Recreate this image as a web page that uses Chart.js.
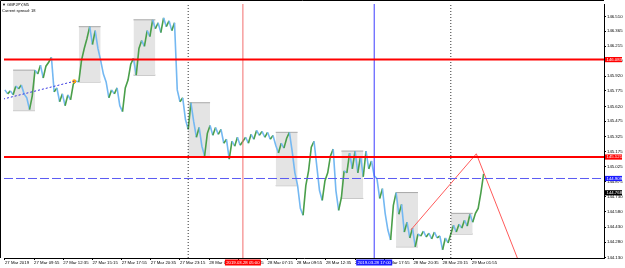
<!DOCTYPE html>
<html><head><meta charset="utf-8">
<script src="https://cdn.jsdelivr.net/npm/chart.js@4/dist/chart.umd.min.js"></script>
<style>html,body{margin:0;padding:0;background:#fff;overflow:hidden}</style>
</head><body>
<canvas id="c" width="625" height="268"></canvas>
<script>
// ---- data (M5 bar index from 27 Mar 2019 07:15) ----
const titleLines = ['\u25BC GBPJPY,M5', 'Current spread: 18'];
const xTickBars = [0,32,64,96,128,160,192,224,256,288,320,352,384,416,448,480,512];
const xTickLabels = ['27 Mar 2019','27 Mar 09:55','27 Mar 12:35','27 Mar 15:15','27 Mar 17:55','27 Mar 20:35','27 Mar 23:15',
  '28 Mar 01:55','28 Mar 04:35','28 Mar 07:15','28 Mar 09:55','28 Mar 12:35','28 Mar 15:15','28 Mar 17:55','28 Mar 20:35','28 Mar 23:15','29 Mar 01:55'];
const yTickValues = [146.510,146.365,146.215,146.070,145.920,145.775,145.620,145.475,145.325,145.175,145.025,144.875,144.730,144.580,144.430,144.280,144.130];
const yRange = [144.124, 146.632];
const xRange = [-1, 657];
const priceStepBars = 3;
const priceValues = [
145.784,145.745,145.774,145.735,145.823,145.794,145.833,145.745,145.706,145.589,
145.725,145.979,145.940,146.028,145.901,146.018,146.057,146.106,145.764,145.803,
145.667,145.745,145.628,145.735,145.686,145.842,145.872,145.862,146.076,146.193,
146.291,146.408,146.232,146.369,146.193,146.076,145.940,145.862,145.706,145.784,
145.745,145.803,145.628,145.569,145.803,145.881,146.037,146.096,145.930,146.193,
146.271,146.213,146.369,146.310,146.476,146.388,146.447,146.349,146.496,146.408,
146.466,146.369,146.447,145.784,145.667,145.706,145.491,145.394,145.657,145.472,
145.316,145.413,145.228,145.131,145.355,145.433,145.335,145.413,145.345,145.394,
145.257,145.296,145.101,145.277,145.228,145.316,145.238,145.277,145.316,145.257,
145.345,145.296,145.384,145.335,145.374,145.316,145.365,145.296,145.335,145.238,
145.160,145.257,145.209,145.306,145.365,145.180,144.965,144.838,144.614,144.546,
144.838,144.985,145.219,145.277,145.033,144.790,144.692,144.887,144.965,145.131,
145.199,144.790,144.595,144.721,144.985,144.965,145.160,145.004,145.180,144.965,
145.131,144.926,145.180,145.004,145.082,144.936,144.907,144.712,144.809,144.565,
144.400,144.302,144.643,144.770,144.556,144.653,144.380,144.478,144.322,144.419,
144.234,144.361,144.341,144.390,144.331,144.370,144.312,144.380,144.322,144.341,
144.205,144.322,144.273,144.361,144.448,144.380,144.458,144.419,144.497,144.439,
144.556,144.478,144.565,144.614,144.770,144.955];
const boxStartBars = [9,81,141,201,297,369,429,489];
const boxEndBars   = [33,105,165,225,321,393,453,513];
const boxHighs = [145.979,146.408,146.476,145.657,145.365,145.180,144.770,144.565];
const boxLows  = [145.579,145.862,145.930,145.131,144.838,144.712,144.234,144.361];
const redLevels = [146.083, 145.121];
const blueDashedLevel = 144.909;
const bidLevel = 144.768;
const separatorBars = [201, 489];
const redTimeBar = 261, redTimeLabel = '2019.03.28 05:00';
const blueTimeBar = 405, blueTimeLabel = '2019.03.28 17:00';
const trendBars = [-2, 76], trendPrices = [145.693, 145.869];
const zigzagBars = [445, 517, 566], zigzagPrices = [144.399, 145.153, 144.032];

// ---- styles ----
const UP = '#4a9f4a', DOWN = '#74b8f2';
const FONT = '"Liberation Sans","DejaVu Sans",sans-serif';

const datasets = [];
// objects on top
redLevels.forEach(v => datasets.push({data:[{x:xRange[0],y:v},{x:xRange[1],y:v}], borderColor:'#ff0000', borderWidth:2, order:0}));
datasets.push({data:[{x:xRange[0],y:blueDashedLevel},{x:xRange[1],y:blueDashedLevel}], borderColor:'#5b5bf2', borderWidth:1, borderDash:[9,3], order:0});
datasets.push({data:[{x:redTimeBar,y:yRange[0]},{x:redTimeBar,y:yRange[1]}], borderColor:'#f26d6d', borderWidth:1, order:1});
datasets.push({data:[{x:blueTimeBar,y:yRange[0]},{x:blueTimeBar,y:yRange[1]}], borderColor:'#3c3cff', borderWidth:1, order:1});
separatorBars.forEach(b => datasets.push({data:[{x:b,y:yRange[0]},{x:b,y:yRange[1]}], borderColor:'#333', borderWidth:1, borderDash:[1,2], order:1}));
datasets.push({data:trendBars.map((b,i)=>({x:b,y:trendPrices[i]})), borderColor:'#3434e0', borderWidth:1, borderDash:[2,2], order:0});
datasets.push({data:[{x:trendBars[1],y:trendPrices[1]}], showLine:false, pointRadius:2, pointBackgroundColor:'#ffa20a', pointBorderWidth:0, order:0});
datasets.push({data:zigzagBars.map((b,i)=>({x:b,y:zigzagPrices[i]})), borderColor:'#ff5a5a', borderWidth:1, order:0});
// price
datasets.push({data:priceValues.map((p,i)=>({x:i*priceStepBars,y:p})), borderWidth:1.6, borderColor:DOWN,
  segment:{borderColor: c => c.p1.parsed.y >= c.p0.parsed.y ? UP : DOWN}, order:5});
// session boxes
boxStartBars.forEach((s,i) => {
  datasets.push({data:[{x:s,y:boxHighs[i]},{x:boxEndBars[i],y:boxHighs[i]}], borderColor:'#a8a8a8', borderWidth:1,
    backgroundColor:'#e4e4e4', fill:{value:boxLows[i]}, order:10});
  datasets.push({data:[{x:s,y:boxLows[i]},{x:boxEndBars[i],y:boxLows[i]}], borderColor:'#a8a8a8', borderWidth:1, order:10});
});
datasets.forEach(d => { if (d.pointRadius === undefined) d.pointRadius = 0; d.fill = d.fill || false; d.tension = 0; });

const overlay = {
  id:'overlay',
  afterDraw(chart){
    const ctx = chart.ctx, a = chart.chartArea, xs = chart.scales.x, ys = chart.scales.y;
    ctx.save();
    ctx.strokeStyle = '#000'; ctx.lineWidth = 1;
    ctx.beginPath(); ctx.moveTo(0.5, a.bottom); ctx.lineTo(0.5, 0.5); ctx.lineTo(a.right, 0.5); ctx.stroke();
    ctx.fillStyle = '#000'; ctx.textBaseline = 'middle'; ctx.textAlign = 'left';
    ctx.font = '4px ' + FONT;
    ctx.fillText(titleLines[0], 2, 5);
    ctx.fillText(titleLines[1], 2, 11);
    // right-axis price tags
    const tags = [[redLevels[0],'#ff0000'],[redLevels[1],'#ff0000'],[blueDashedLevel,'#1c1cff'],[bidLevel,'#000000']];
    ctx.font = '4.3px ' + FONT;
    tags.forEach(([v,col]) => {
      const y = ys.getPixelForValue(v);
      ctx.fillStyle = col; ctx.fillRect(a.right + 1, y - 2.6, 17, 5.2);
      ctx.fillStyle = '#fff'; ctx.fillText(v.toFixed(3), a.right + 2.5, y + 0.2);
    });
    // bottom time tags
    [[redTimeBar, redTimeLabel, '#ff0000'], [blueTimeBar, blueTimeLabel, '#1c1cff']].forEach(([b, t, col]) => {
      const x = xs.getPixelForValue(b);
      ctx.fillStyle = col; ctx.fillRect(x - 18, a.bottom + 1.5, 36, 6);
      ctx.fillStyle = '#fff'; ctx.textAlign = 'center'; ctx.fillText(t, x, a.bottom + 4.6);
    });
    ctx.restore();
  }
};

new Chart(document.getElementById('c'), {
  type:'line',
  data:{datasets},
  options:{
    responsive:false, devicePixelRatio:1, animation:false,
    layout:{padding:{left:1, top:1, right:0, bottom:0}},
    plugins:{legend:{display:false}, tooltip:{enabled:false}},
    scales:{
      x:{type:'linear', min:xRange[0], max:xRange[1], bounds:'data',
        afterBuildTicks: s => { s.ticks = xTickBars.map(v => ({value:v})); },
        afterFit: s => { s.height = 10; s.paddingLeft = 0; s.paddingRight = 0; },
        ticks:{autoSkip:false, maxRotation:0, minRotation:0, align:'start', padding:0.5, color:'#000',
          font:{family:FONT, size:4.3}, callback:(v,i) => xTickLabels[i]},
        grid:{drawOnChartArea:false, drawTicks:true, tickLength:2, color:'#000'},
        border:{display:true, color:'#000'}
      },
      y:{type:'linear', position:'right', min:yRange[0], max:yRange[1], bounds:'data',
        afterBuildTicks: s => { s.ticks = yTickValues.map(v => ({value:v})); },
        afterFit: s => { s.width = 21; s.paddingTop = 0; s.paddingBottom = 0; },
        ticks:{autoSkip:false, padding:1, color:'#000', font:{family:FONT, size:4.3},
          callback:(v,i) => yTickValues[i].toFixed(3)},
        grid:{drawOnChartArea:false, drawTicks:true, tickLength:2, color:'#000'},
        border:{display:true, color:'#000'}
      }
    }
  },
  plugins:[overlay]
});
</script>
</body></html>
